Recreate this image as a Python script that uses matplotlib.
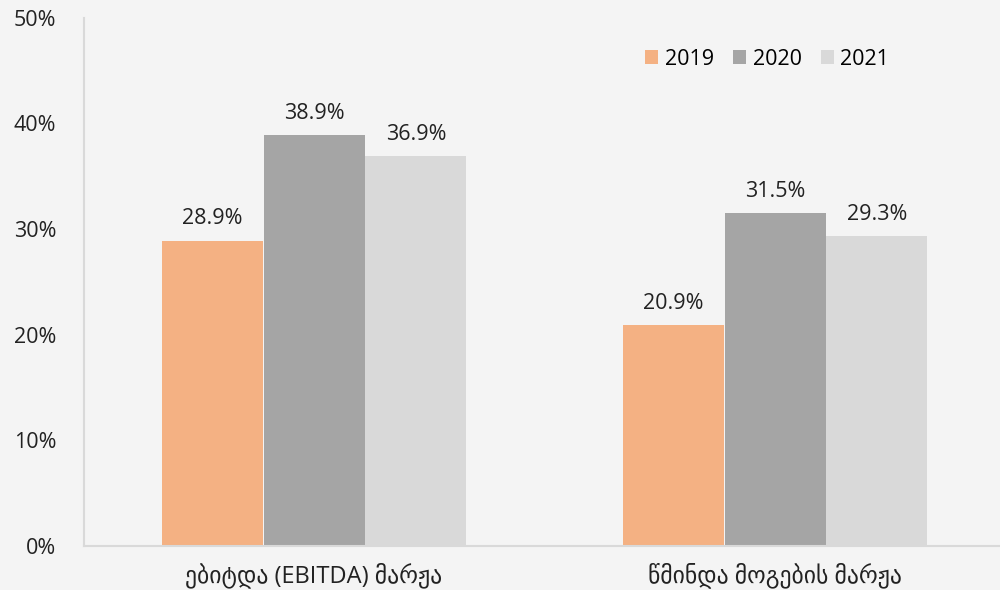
import matplotlib
matplotlib.use("Agg")
import matplotlib.pyplot as plt
from matplotlib.ticker import FuncFormatter

categories = ["ებიტდა (EBITDA) მარჟა", "წმინდა მოგების მარჟა"]
years = ["2019", "2020", "2021"]
values_2019 = [28.9, 20.9]
values_2020 = [38.9, 31.5]
values_2021 = [36.9, 29.3]
colors = ["#F4B183", "#A5A5A5", "#D9D9D9"]

plt.rcParams["font.family"] = ["Open Sans", "DejaVu Sans"]

bg = "#F4F4F4"
fig = plt.figure(figsize=(10, 5.9), dpi=100, facecolor=bg)
ax = fig.add_axes([0.084, 0.075, 0.916, 0.895], facecolor=bg)

series = [values_2019, values_2020, values_2021]
width = 0.219
offsets = [-0.221, 0.0, 0.221]
x = list(range(len(categories)))
for vals, off, col, yr in zip(series, offsets, colors, years):
    pos = [xi + off for xi in x]
    bars = ax.bar(pos, vals, width=width, color=col, label=yr, zorder=2)
    for b, v in zip(bars, vals):
        ax.annotate(f"{v:.1f}%", (b.get_x() + b.get_width() / 2, v),
                    xytext=(0, 8), textcoords="offset points",
                    ha="center", va="bottom", fontsize=15.5, color="#222222")

ax.set_xlim(-0.499, 1.488)
ax.set_ylim(0, 50)
ax.set_yticks(range(0, 51, 10))
ax.yaxis.set_major_formatter(FuncFormatter(lambda v, p: f"{v:.0f}%"))
ax.set_xticks(x)
ax.set_xticklabels(categories, fontsize=17)
ax.tick_params(axis="both", length=0, colors="#222222")
ax.tick_params(axis="y", pad=20, labelsize=15.5)
ax.tick_params(axis="x", pad=12)

for s in ["top", "right"]:
    ax.spines[s].set_visible(False)
for s in ["left", "bottom"]:
    ax.spines[s].set_color("#D9D9D9")
    ax.spines[s].set_linewidth(1.5)

leg = ax.legend(loc="center right", bbox_to_anchor=(0.879, 0.921), ncol=3,
                frameon=False, fontsize=15.5, handlelength=0.6, handleheight=0.6,
                handletextpad=0.3, columnspacing=0.9, borderpad=0,
                borderaxespad=0)

fig.savefig("out.png", dpi=100, facecolor=bg)
